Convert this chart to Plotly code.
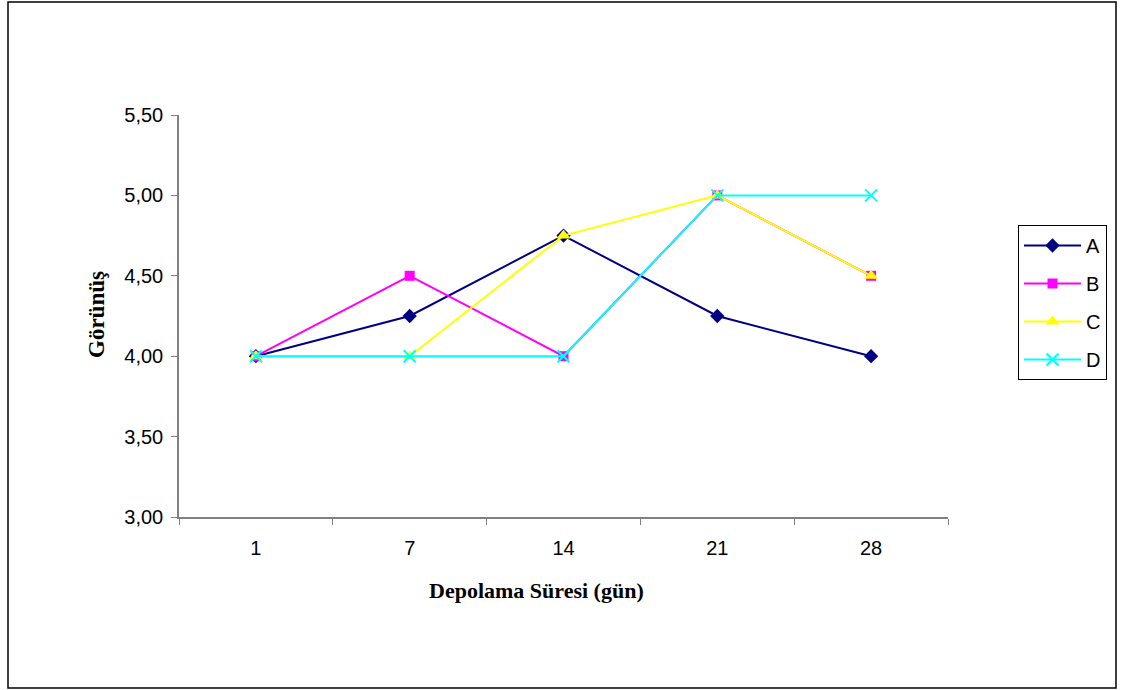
import plotly.graph_objects as go

# Storage days (category axis) and appearance scores per sample
days = ["1", "7", "14", "21", "28"]
series_names = ["A", "B", "C", "D"]
values_a = [4.00, 4.25, 4.75, 4.25, 4.00]
values_b = [4.00, 4.50, 4.00, 5.00, 4.50]
values_c = [4.00, 4.00, 4.75, 5.00, 4.50]
values_d = [4.00, 4.00, 4.00, 5.00, 5.00]
y_ticks = [3.0, 3.5, 4.0, 4.5, 5.0, 5.5]

colors = ["#000080", "#FF00FF", "#FFFF00", "#00FFFF"]
symbols = ["diamond", "square", "triangle-up", "x-thin"]
sizes = [11, 10, 12, 12]
all_values = [values_a, values_b, values_c, values_d]

W, H = 1122, 690
L, R, T, B = 179, 948, 115, 517  # plot area in pixels

fig = go.Figure()
for name, vals, col, sym, sz in zip(series_names, all_values, colors, symbols, sizes):
    marker = dict(symbol=sym, size=sz, color=col)
    if sym == "x-thin":
        marker["line"] = dict(color=col, width=2)
    fig.add_trace(go.Scatter(
        x=days, y=vals, name=name, mode="lines+markers",
        line=dict(color=col, width=2), marker=marker,
        legendgroup=name,
    ))

def px_x(p):
    return (p - L) / (R - L)

def px_y(p):
    return (B - p) / (B - T)

# Outer chart border
fig.add_shape(type="rect", xref="paper", yref="paper",
              x0=px_x(8), x1=px_x(1116), y0=px_y(688), y1=px_y(2),
              line=dict(color="#000000", width=1.5), fillcolor="rgba(0,0,0,0)",
              layer="below")

title_font = dict(family="Liberation Serif, Times New Roman", size=22, color="black")

# Axis titles
fig.add_annotation(text="<b>Depolama Süresi (gün)</b>", xref="paper", yref="paper",
                   x=px_x(536), y=px_y(590), xanchor="center", yanchor="middle",
                   showarrow=False, font=title_font)
fig.add_annotation(text="<b>Görünüş</b>", xref="paper", yref="paper",
                   x=px_x(96), y=px_y(315), xanchor="center", yanchor="middle",
                   textangle=-90, showarrow=False,
                   font=dict(family="Liberation Serif, Times New Roman", size=23, color="black"))

fig.update_layout(
    width=W, height=H,
    margin=dict(l=L, r=W - R, t=T, b=H - B, pad=0),
    paper_bgcolor="white", plot_bgcolor="white",
    separators=",.",
    font=dict(family="Liberation Sans, Arial", size=20, color="black"),
    showlegend=True,
    legend=dict(
        x=px_x(1018), y=px_y(225), xanchor="left", yanchor="top",
        bordercolor="#000000", borderwidth=1, bgcolor="white",
        font=dict(size=20, family="Liberation Sans, Arial"),
        tracegroupgap=9, itemwidth=57,
    ),
    xaxis=dict(
        type="category", range=[-0.5, 4.5], tickson="boundaries",
        ticks="outside", ticklen=6, tickcolor="#808080",
        showline=True, linecolor="#808080", linewidth=1.5,
        showgrid=False, zeroline=False, ticklabelstandoff=12,
    ),
    yaxis=dict(
        range=[3.0, 5.5], tickvals=y_ticks, tickformat=".2f",
        ticks="outside", ticklen=6, tickcolor="#808080",
        showline=True, linecolor="#808080", linewidth=1.5,
        showgrid=False, zeroline=False, ticklabelstandoff=4,
    ),
)

fig.write_html("out.html")
